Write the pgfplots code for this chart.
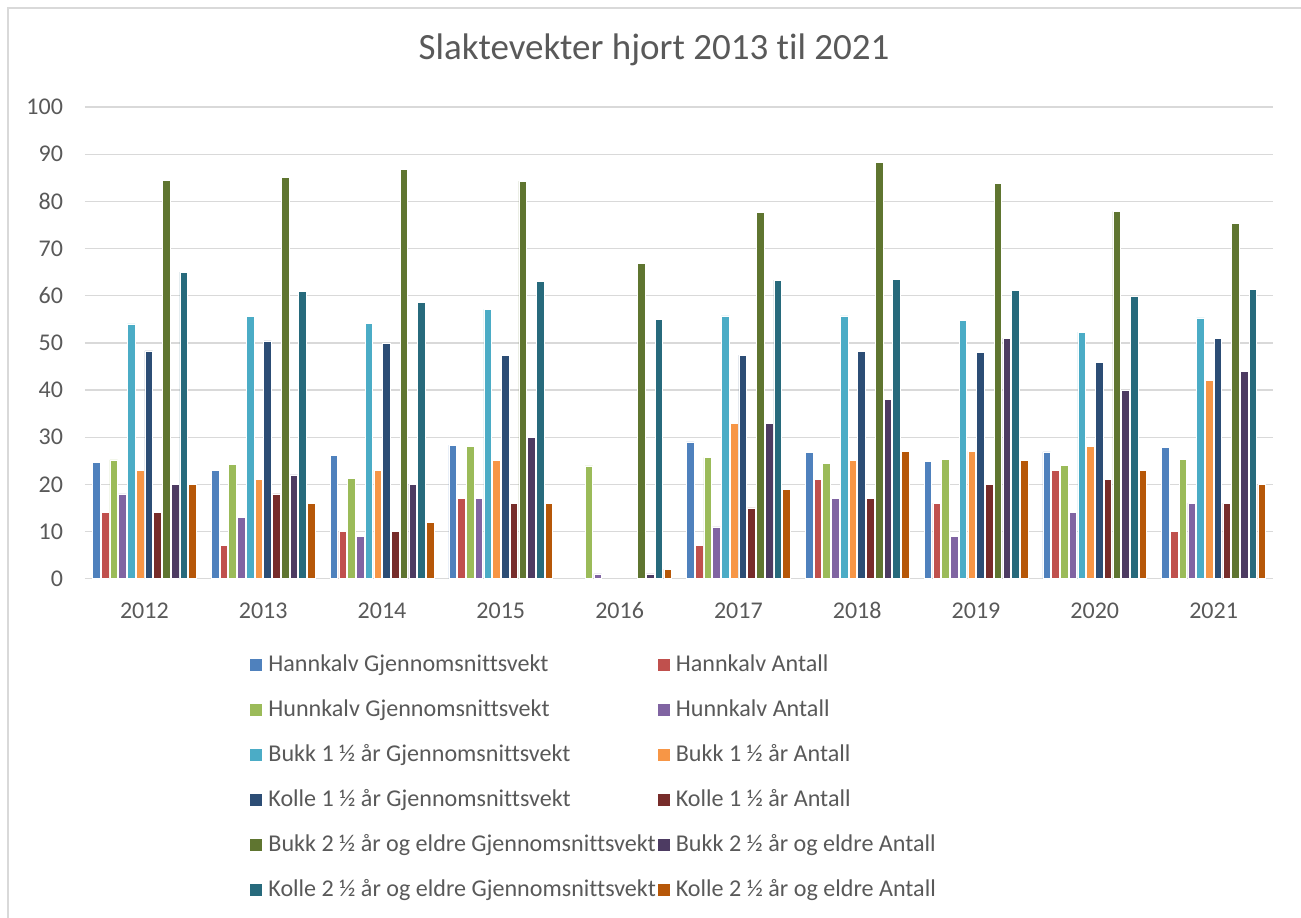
\documentclass[border=0pt]{standalone}
\usepackage{fontspec}
\setmainfont{Carlito}[Ligatures=NoCommon]
\usepackage{pgfplots}
\usepackage{pgfplotstable}
\pgfplotsset{compat=1.18}

\definecolor{txt}{HTML}{595959}
\definecolor{gridc}{HTML}{D9D9D9}
\definecolor{c1}{HTML}{4F81BD}
\definecolor{c2}{HTML}{C0504D}
\definecolor{c3}{HTML}{9BBB59}
\definecolor{c4}{HTML}{8064A2}
\definecolor{c5}{HTML}{4BACC6}
\definecolor{c6}{HTML}{F79646}
\definecolor{c7}{HTML}{2C4D75}
\definecolor{c8}{HTML}{772C2A}
\definecolor{c9}{HTML}{5F7530}
\definecolor{c10}{HTML}{4D3B62}
\definecolor{c11}{HTML}{276A7C}
\definecolor{c12}{HTML}{B65708}

% x: 0 = 2012 ... 9 = 2021
\pgfplotstableread{
x  HkG  HkA HuG  HuA B1G  B1A K1G  K1A B2G  B2A K2G  K2A
0  24.7 14  25.2 18  54.0 23  48.3 14  84.5 20  65.0 20
1  23.0 7   24.2 13  55.6 21  50.4 18  85.1 22  60.9 16
2  26.1 10  21.3 9   54.2 23  49.9 10  86.7 20  58.6 12
3  28.3 17  28.1 17  57.1 25  47.3 16  84.3 30  63.0 16
4  nan  nan 23.9 1   nan  nan nan  nan 66.9 1   55.0 2
5  29.0 7   25.7 11  55.7 33  47.4 15  77.6 33  63.3 19
6  26.8 21  24.4 17  55.7 25  48.2 17  88.3 38  63.4 27
7  24.9 16  25.3 9   54.7 27  48.0 20  83.8 51  61.2 25
8  26.9 23  24.1 14  52.3 28  45.8 21  77.9 40  59.8 23
9  27.9 10  25.3 16  55.3 42  50.9 16  75.4 44  61.4 20
}\vekt

\begin{document}
\begin{tikzpicture}
\useasboundingbox (-42.5pt,-169.15pt) rectangle (608pt,289.35pt);
\begin{axis}[
    scale only axis,
    width=594pt, height=235.85pt,
    ybar=0.575pt, bar width=3.8pt,
    xmin=-0.5, xmax=9.5, ymin=0, ymax=100,
    xtick={0,...,9},
    xticklabels={2012,2013,2014,2015,2016,2017,2018,2019,2020,2021},
    ytick={0,10,...,100},
    ymajorgrids,
    grid style={gridc, line width=0.65pt},
    axis x line*=bottom, axis y line*=left,
    x axis line style={gridc, line width=0.65pt, -},
    y axis line style={draw=none},
    major tick length=0pt, tick style={draw=none},
    tick label style={font=\fontsize{12}{14}\selectfont, text=txt,
        /pgf/number format/assume math mode=true},
    yticklabel style={xshift=-7.5pt},
    xticklabel style={anchor=base, yshift=-19.7pt},
    title={Slaktevekter hjort 2013 til 2021},
    title style={font=\fontsize{18.5}{22}\selectfont, text=txt,
        at={(0.479,1)}, anchor=base, yshift=17.85pt},
    legend columns=2,
    legend cell align=left,
    legend style={draw=none, fill=none, at={(0.1389,-0.1533)}, anchor=north west,
        inner sep=0pt, font=\fontsize{12.05}{14}\selectfont, text=txt,
        row sep=8.5pt,
        nodes={inner sep=1pt, text height=9pt, text depth=3pt},
        /tikz/every odd column/.append style={column sep=2pt},
        /tikz/every even column/.append style={column sep=0pt}},
    legend image code/.code={\fill[#1,draw=none] (0pt,-3pt) rectangle (6pt,3pt);},
    every axis plot/.append style={draw=white, line width=0.3pt},
]
\addplot[fill=c1]  table[x=x, y=HkG] {\vekt};
\addlegendentry{Hannkalv Gjennomsnittsvekt}
\addplot[fill=c2]  table[x=x, y=HkA] {\vekt};
\addlegendentry{Hannkalv Antall}
\addplot[fill=c3]  table[x=x, y=HuG] {\vekt};
\addlegendentry{Hunnkalv Gjennomsnittsvekt}
\addplot[fill=c4]  table[x=x, y=HuA] {\vekt};
\addlegendentry{Hunnkalv Antall}
\addplot[fill=c5]  table[x=x, y=B1G] {\vekt};
\addlegendentry{Bukk 1 ½ år Gjennomsnittsvekt}
\addplot[fill=c6]  table[x=x, y=B1A] {\vekt};
\addlegendentry{Bukk 1 ½ år Antall}
\addplot[fill=c7]  table[x=x, y=K1G] {\vekt};
\addlegendentry{Kolle 1 ½ år Gjennomsnittsvekt}
\addplot[fill=c8]  table[x=x, y=K1A] {\vekt};
\addlegendentry{Kolle 1 ½ år Antall}
\addplot[fill=c9]  table[x=x, y=B2G] {\vekt};
\addlegendentry{Bukk 2 ½ år og eldre Gjennomsnittsvekt}
\addplot[fill=c10] table[x=x, y=B2A] {\vekt};
\addlegendentry{Bukk 2 ½ år og eldre Antall}
\addplot[fill=c11] table[x=x, y=K2G] {\vekt};
\addlegendentry{Kolle 2 ½ år og eldre Gjennomsnittsvekt}
\addplot[fill=c12] table[x=x, y=K2A] {\vekt};
\addlegendentry{Kolle 2 ½ år og eldre Antall}
\end{axis}
% chart frame (only top and left edges are visible in the crop)
\draw[gridc, line width=0.6pt] (-38.5pt,-170pt) -- (-38.5pt,285.35pt) -- (610pt,285.35pt);
\end{tikzpicture}
\end{document}
